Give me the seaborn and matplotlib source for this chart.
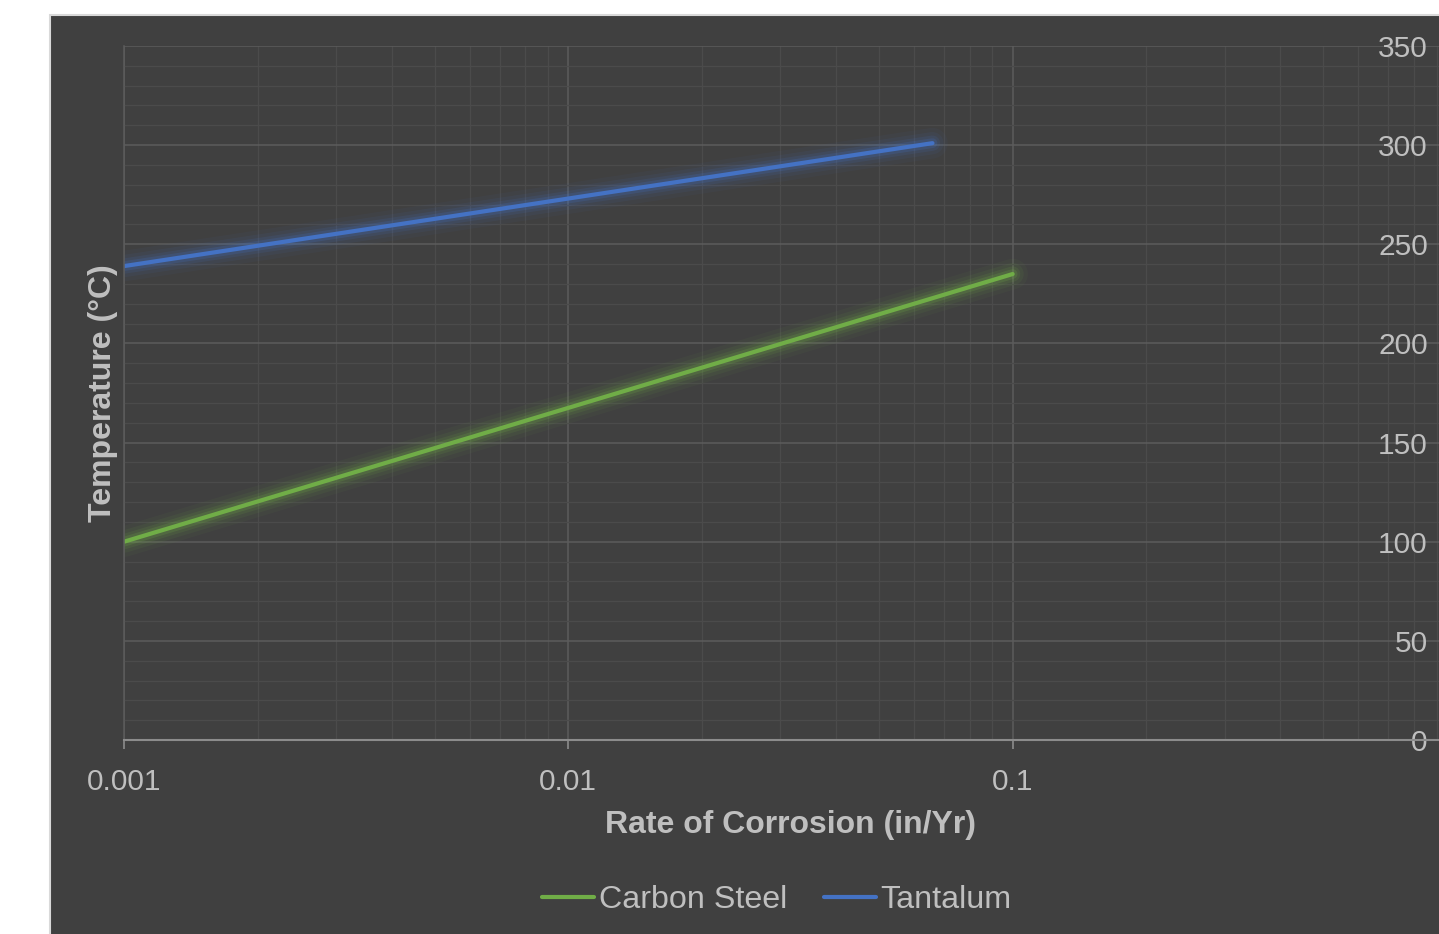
import numpy as np
import pandas as pd
import seaborn as sns
import matplotlib
matplotlib.use('Agg')
import matplotlib.pyplot as plt
import matplotlib.patheffects as pe
from matplotlib.patches import Rectangle
from matplotlib.ticker import LogLocator, FixedLocator, MultipleLocator

# data
carbon_rate = [0.001, 0.1]
carbon_temp = [100, 235]
tantalum_rate = [0.001, 0.066]
tantalum_temp = [239, 301]
series_names = ['Carbon Steel', 'Tantalum']
series_colors = ['#70AD47', '#4472C4']
x_ticks = [0.001, 0.01, 0.1]
x_ticklabels = ['0.001', '0.01', '0.1']
y_ticks = [0, 50, 100, 150, 200, 250, 300, 350]

df = pd.concat([
    pd.DataFrame({'rate': carbon_rate, 'temp': carbon_temp, 'series': series_names[0]}),
    pd.DataFrame({'rate': tantalum_rate, 'temp': tantalum_temp, 'series': series_names[1]}),
])

sns.set_theme(style='dark')
plt.rcParams['font.family'] = ['Liberation Sans', 'DejaVu Sans']

W, H = 1439, 934
fig = plt.figure(figsize=(W / 100, H / 100), dpi=100, facecolor='white')
bg = '#404040'
txt = '#bfbfbf'
# chart area, runs off the right and bottom edges
fig.patches.append(Rectangle((50 / W, -0.1), 1.2, 1.1 - 15 / H, transform=fig.transFigure,
                             facecolor=bg, edgecolor='#d9d9d9', lw=1.5, zorder=-10))

ax = fig.add_axes([124 / W, 1 - 740 / H, 1333 / W, 694 / H])
ax.set_facecolor(bg)

sns.lineplot(data=df, x='rate', y='temp', hue='series', palette=series_colors,
             hue_order=series_names, lw=3, ax=ax, solid_capstyle='round')

ax.set_xscale('log')
ax.set_xlim(0.001, 1)
ax.set_ylim(0, 350)

ax.xaxis.set_major_locator(FixedLocator(x_ticks))
ax.set_xticklabels(x_ticklabels)
ax.xaxis.set_minor_locator(LogLocator(base=10, subs=np.arange(2, 10)))
ax.xaxis.set_minor_formatter(plt.NullFormatter())
ax.set_yticks(y_ticks)
ax.yaxis.set_minor_locator(MultipleLocator(10))

ax.grid(True, which='major', color='#5c5c5c', lw=1.1)
ax.grid(True, which='minor', color='#4b4b4b', lw=0.9)
ax.set_axisbelow(True)

ax.yaxis.tick_right()
ax.yaxis.set_label_position('left')
ax.tick_params(axis='y', which='both', length=0, pad=-21, labelsize=21.5, labelcolor=txt)
for lab in ax.get_yticklabels():
    lab.set_horizontalalignment('right')
ax.tick_params(axis='x', which='major', length=6.5, width=1.2, color='#8c8c8c',
               direction='out', pad=14, labelsize=21.5, labelcolor=txt, bottom=True)
ax.tick_params(axis='x', which='minor', length=0)

for s in ['top', 'right']:
    ax.spines[s].set_visible(False)
ax.spines['bottom'].set_color('#8c8c8c')
ax.spines['bottom'].set_linewidth(1.5)
ax.spines['left'].set_color('#5c5c5c')
ax.spines['left'].set_linewidth(1.1)

ax.set_xlabel('Rate of Corrosion (in/Yr)', fontsize=23, fontweight='bold', color=txt, labelpad=10)
ax.set_ylabel('Temperature (°C)', fontsize=23, fontweight='bold', color=txt, labelpad=4)

handles, labels = ax.get_legend_handles_labels()
leg = ax.legend(handles, labels, loc='center', bbox_to_anchor=(777 / W, 1 - 900 / H),
                bbox_transform=fig.transFigure, ncol=2, frameon=False, fontsize=23.2,
                handlelength=1.6, handletextpad=0.15, columnspacing=1.15)
for t in leg.get_texts():
    t.set_color(txt)

# soft glow under the data lines
for line in ax.lines:
    c = line.get_color()
    line.set_path_effects([
        pe.Stroke(linewidth=22, foreground=c, alpha=0.05),
        pe.Stroke(linewidth=16, foreground=c, alpha=0.08),
        pe.Stroke(linewidth=11, foreground=c, alpha=0.12),
        pe.Stroke(linewidth=7, foreground=c, alpha=0.2),
        pe.Normal(),
    ])

fig.savefig('out.png', dpi=100, facecolor='white')
